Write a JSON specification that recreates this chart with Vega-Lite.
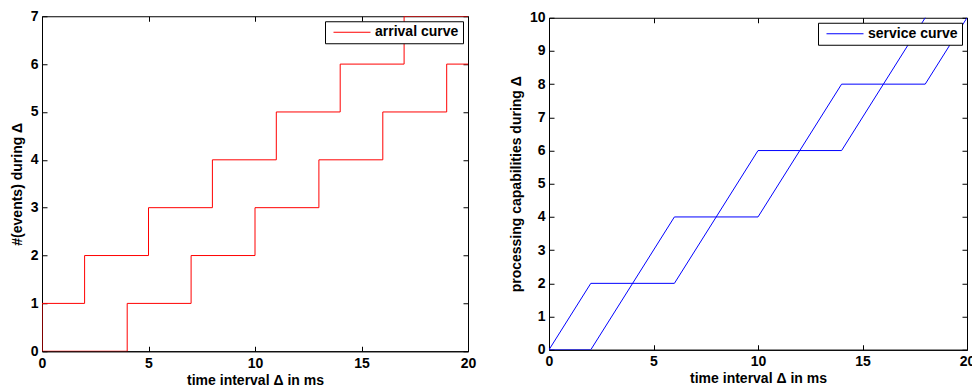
{
  "$schema": "https://vega.github.io/schema/vega-lite/v6.json",
  "background": "white",
  "padding": {"left": 9, "top": 0, "right": 0, "bottom": 0},
  "spacing": 31,
  "center": true,
  "datasets": {
    "arrival": [
      {"curve": "upper", "i": 0, "x": 0, "y": 0, "legend": "arrival curve"},
      {"curve": "upper", "i": 1, "x": 0, "y": 1, "legend": "arrival curve"},
      {"curve": "upper", "i": 2, "x": 2, "y": 2, "legend": "arrival curve"},
      {"curve": "upper", "i": 3, "x": 5, "y": 3, "legend": "arrival curve"},
      {"curve": "upper", "i": 4, "x": 8, "y": 4, "legend": "arrival curve"},
      {"curve": "upper", "i": 5, "x": 11, "y": 5, "legend": "arrival curve"},
      {"curve": "upper", "i": 6, "x": 14, "y": 6, "legend": "arrival curve"},
      {"curve": "upper", "i": 7, "x": 17, "y": 7, "legend": "arrival curve"},
      {"curve": "upper", "i": 8, "x": 20, "y": 7, "legend": "arrival curve"},
      {"curve": "lower", "i": 0, "x": 0, "y": 0, "legend": "arrival curve"},
      {"curve": "lower", "i": 1, "x": 4, "y": 1, "legend": "arrival curve"},
      {"curve": "lower", "i": 2, "x": 7, "y": 2, "legend": "arrival curve"},
      {"curve": "lower", "i": 3, "x": 10, "y": 3, "legend": "arrival curve"},
      {"curve": "lower", "i": 4, "x": 13, "y": 4, "legend": "arrival curve"},
      {"curve": "lower", "i": 5, "x": 16, "y": 5, "legend": "arrival curve"},
      {"curve": "lower", "i": 6, "x": 19, "y": 6, "legend": "arrival curve"},
      {"curve": "lower", "i": 7, "x": 20, "y": 6, "legend": "arrival curve"}
    ],
    "service": [
      {"curve": "upper", "i": 0, "x": 0, "y": 0, "legend": "service curve"},
      {"curve": "upper", "i": 1, "x": 2, "y": 2, "legend": "service curve"},
      {"curve": "upper", "i": 2, "x": 6, "y": 2, "legend": "service curve"},
      {"curve": "upper", "i": 3, "x": 10, "y": 6, "legend": "service curve"},
      {"curve": "upper", "i": 4, "x": 14, "y": 6, "legend": "service curve"},
      {"curve": "upper", "i": 5, "x": 18, "y": 10, "legend": "service curve"},
      {"curve": "upper", "i": 6, "x": 20, "y": 12, "legend": "service curve"},
      {"curve": "lower", "i": 0, "x": 0, "y": 0, "legend": "service curve"},
      {"curve": "lower", "i": 1, "x": 2, "y": 0, "legend": "service curve"},
      {"curve": "lower", "i": 2, "x": 6, "y": 4, "legend": "service curve"},
      {"curve": "lower", "i": 3, "x": 10, "y": 4, "legend": "service curve"},
      {"curve": "lower", "i": 4, "x": 14, "y": 8, "legend": "service curve"},
      {"curve": "lower", "i": 5, "x": 18, "y": 8, "legend": "service curve"},
      {"curve": "lower", "i": 6, "x": 20, "y": 10, "legend": "service curve"}
    ]
  },
  "config": {
    "font": "Liberation Sans",
    "view": {"stroke": "black", "strokeWidth": 1},
    "axis": {
      "grid": false,
      "domainColor": "black",
      "tickColor": "black",
      "labelColor": "black",
      "titleColor": "black",
      "labelFont": "Liberation Sans",
      "titleFont": "Liberation Sans",
      "labelFontWeight": "bold",
      "titleFontWeight": "bold",
      "labelFontSize": 14,
      "titleFontSize": 14,
      "labelFlush": false,
      "labelOverlap": false,
      "tickSize": -5,
      "labelPadding": 9,
      "titlePadding": 0
    },
    "axisX": {"labelPadding": 10, "titlePadding": 3},
    "legend": {
      "orient": "top-right",
      "offset": 5,
      "title": null,
      "strokeColor": "black",
      "fillColor": "white",
      "padding": 4,
      "symbolType": "stroke",
      "symbolSize": 1369,
      "symbolStrokeWidth": 1,
      "symbolOffset": 4,
      "clipHeight": 14,
      "labelOffset": 4,
      "labelFont": "Liberation Sans",
      "labelFontWeight": "bold",
      "labelFontSize": 14,
      "labelColor": "black"
    }
  },
  "resolve": {"scale": {"color": "independent"}, "legend": {"color": "independent"}},
  "hconcat": [
    {
      "width": 426,
      "height": 335,
      "data": {"name": "arrival"},
      "layer": [
        {
          "mark": {"type": "line", "interpolate": "step-after", "strokeWidth": 1, "clip": true},
          "encoding": {
            "x": {"field": "x", "type": "quantitative", "scale": {"domain": [0, 20], "nice": false},
                  "axis": {"title": "time interval Δ in ms", "values": [0, 5, 10, 15, 20]}},
            "y": {"field": "y", "type": "quantitative", "scale": {"domain": [0, 7], "nice": false},
                  "axis": {"title": "#(events) during Δ", "values": [0, 1, 2, 3, 4, 5, 6, 7], "titlePadding": 6}},
            "color": {"field": "legend", "type": "nominal", "scale": {"range": ["#ff0000"]}},
            "detail": {"field": "curve"},
            "order": {"field": "i"}
          }
        },
        {
          "mark": {"type": "line", "strokeOpacity": 0, "clip": true},
          "encoding": {
            "x": {"field": "x", "type": "quantitative",
                  "axis": {"orient": "top", "labels": false, "title": null, "domain": false, "minExtent": 0, "values": [0, 5, 10, 15, 20]}},
            "y": {"field": "y", "type": "quantitative",
                  "axis": {"orient": "right", "labels": false, "title": null, "domain": false, "minExtent": 0, "values": [0, 1, 2, 3, 4, 5, 6, 7]}},
            "detail": {"field": "curve"}
          }
        }
      ],
      "resolve": {"axis": {"x": "independent", "y": "independent"}}
    },
    {
      "width": 418,
      "height": 332,
      "data": {"name": "service"},
      "layer": [
        {
          "mark": {"type": "line", "strokeWidth": 1, "clip": true},
          "encoding": {
            "x": {"field": "x", "type": "quantitative", "scale": {"domain": [0, 20], "nice": false},
                  "axis": {"title": "time interval Δ in ms", "values": [0, 5, 10, 15, 20]}},
            "y": {"field": "y", "type": "quantitative", "scale": {"domain": [0, 10], "nice": false},
                  "axis": {"title": "processing capabilities during Δ", "values": [0, 1, 2, 3, 4, 5, 6, 7, 8, 9, 10], "titlePadding": 6}},
            "color": {"field": "legend", "type": "nominal", "scale": {"range": ["#0000ff"]}},
            "detail": {"field": "curve"},
            "order": {"field": "i"}
          }
        },
        {
          "mark": {"type": "line", "strokeOpacity": 0, "clip": true},
          "encoding": {
            "x": {"field": "x", "type": "quantitative",
                  "axis": {"orient": "top", "labels": false, "title": null, "domain": false, "minExtent": 17, "values": [0, 5, 10, 15, 20]}},
            "y": {"field": "y", "type": "quantitative",
                  "axis": {"orient": "right", "labels": false, "title": null, "domain": false, "minExtent": 0, "values": [0, 1, 2, 3, 4, 5, 6, 7, 8, 9, 10]}},
            "detail": {"field": "curve"}
          }
        }
      ],
      "resolve": {"axis": {"x": "independent", "y": "independent"}}
    }
  ]
}
